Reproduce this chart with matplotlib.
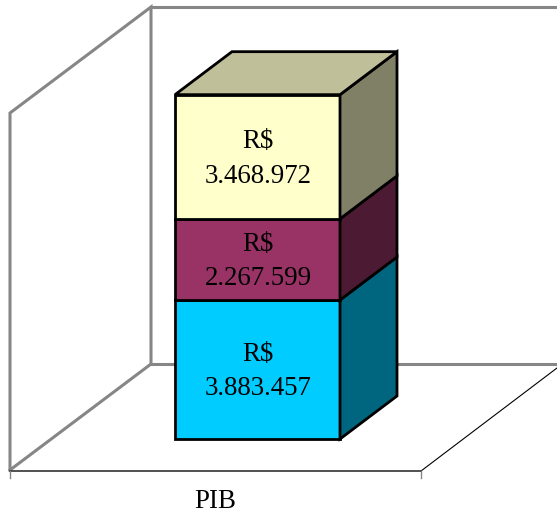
import matplotlib
matplotlib.use('Agg')
import matplotlib.pyplot as plt
from matplotlib.patches import Polygon

plt.rcParams['font.family'] = ['Liberation Serif', 'DejaVu Serif']

category = 'PIB'
values = [3883457, 2267599, 3468972]
labels = ['R$\n3.883.457', 'R$\n2.267.599', 'R$\n3.468.972']
front_colors = ['#00ccff', '#993366', '#ffffcc']
side_colors = ['#006680', '#4d1a33', '#808066']
top_color = '#bfbf99'

W, H = 557, 516
# y axis runs in value units, base of the bars at pixel row 439
px_per_value = 139.0 / values[0]
y_bottom = -(H - 439) / px_per_value
y_top = 439 / px_per_value

fig = plt.figure(figsize=(W / 100, H / 100), dpi=100)
ax = fig.add_axes([0, 0, 1, 1])
ax.set_xlim(0, W)
ax.set_ylim(y_bottom, y_top)
ax.axis('off')


def py(row):
    # pixel row to axis value
    return (439 - row) / px_per_value


grey = '#868686'
# walls
ax.plot([10, 10, 151, 151], [py(470), py(113), py(7), py(364)], color=grey, lw=2.2, solid_joinstyle='miter')
ax.plot([151, 557], [py(7), py(7)], color=grey, lw=2.2)
ax.plot([151, 557], [py(364), py(364)], color=grey, lw=2.2)
ax.plot([10, 151], [py(470), py(364)], color=grey, lw=2.2)
# floor edges and ticks
ax.plot([421, 557], [py(471), py(368)], color='black', lw=0.8)
ax.plot([10, 421], [py(471), py(471)], color='#333333', lw=1.2)
ax.plot([10, 10], [py(471), py(478)], color=grey, lw=1.0)
ax.plot([421, 421], [py(471), py(478)], color=grey, lw=1.0)

x0, x1 = 175, 340
dx = 57
dy = 43 / px_per_value
edge = dict(edgecolor='black', linewidth=2.0, joinstyle='miter')
text_shift = 2 / px_per_value

base = 0
for val, lab, fc, sc in zip(values, labels, front_colors, side_colors):
    top = base + val
    ax.add_patch(Polygon([(x0, base), (x1, base), (x1, top), (x0, top)], facecolor=fc, zorder=3, **edge))
    ax.add_patch(Polygon([(x1, base), (x1 + dx, base + dy), (x1 + dx, top + dy), (x1, top)], facecolor=sc, zorder=3, **edge))
    ax.text((x0 + x1) / 2 + 0.5, base + val / 2 - text_shift, lab, ha='center', va='center', fontsize=19.4,
            color='black', linespacing=1.5, zorder=4)
    base = top

ax.add_patch(Polygon([(x0, base), (x1, base), (x1 + dx, base + dy), (x0 + dx, base + dy)], facecolor=top_color, zorder=3, **edge))

ax.text(215.5, py(501), category, ha='center', va='center', fontsize=19.4, color='black')

fig.savefig('out.png', dpi=100)
